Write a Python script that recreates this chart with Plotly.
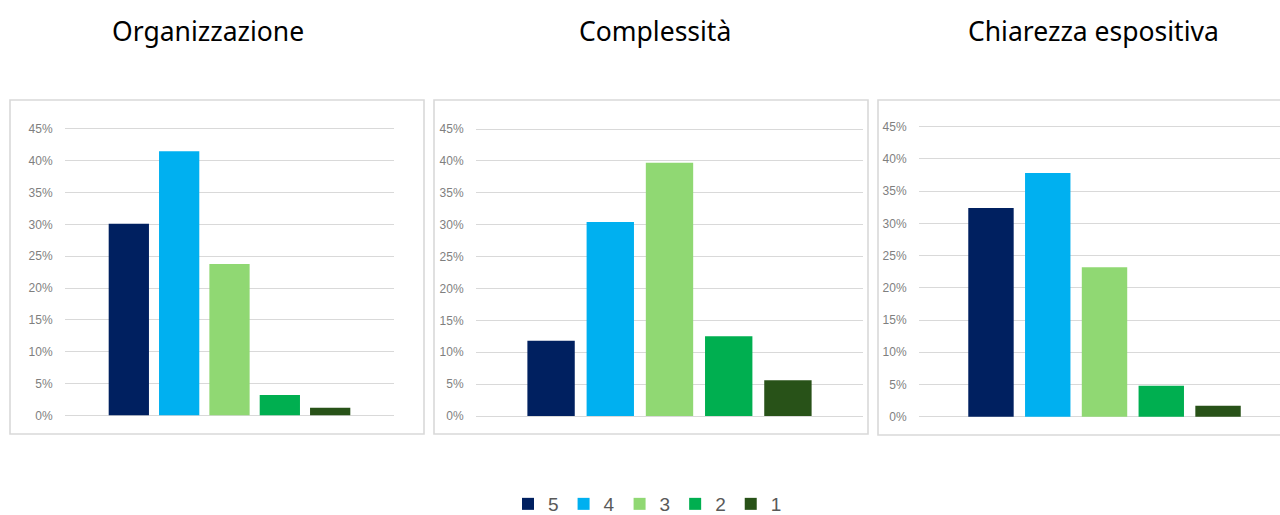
import plotly.graph_objects as go

panels = ["Organizzazione", "Complessità", "Chiarezza espositiva"]
series = ["5", "4", "3", "2", "1"]
colors = ["#002060", "#00B0F0", "#90D873", "#00AF50", "#285218"]
organizzazione = [0.301, 0.415, 0.238, 0.032, 0.012]
complessita = [0.118, 0.304, 0.397, 0.125, 0.056]
chiarezza = [0.324, 0.378, 0.232, 0.048, 0.017]
values = [organizzazione, complessita, chiarezza]
yticks = [0, 0.05, 0.10, 0.15, 0.20, 0.25, 0.30, 0.35, 0.40, 0.45]

# figure slightly taller than the 515px window so the legend never pushes margins
W, H = 1280, 535

def px_x(p):
    return p / W

def px_y(p):
    return 1 - p / H

# plot area pixel geometry: (x0, x1, y_top45, y_zero)
geo = [
    (65, 394, 129.0, 415.3),
    (476, 863, 129.0, 416.0),
    (919, 1280, 126.7, 416.7),
]
xranges = [[-0.5, 0.5], [-0.5, 0.5], [-0.5, 0.473]]
boxes = [(10, 424, 100, 434), (434, 868, 100, 434), (878, 1300, 100, 435)]
title_x = [208, 655, 1093]

fig = go.Figure()
for i, pname in enumerate(panels):
    ax = "" if i == 0 else str(i + 1)
    for j, s in enumerate(series):
        fig.add_trace(go.Bar(
            x=[pname], y=[values[i][j]], name=s,
            marker=dict(color=colors[j], line=dict(width=0)),
            legendgroup=s, showlegend=(i == 0),
            xaxis="x" + ax, yaxis="y" + ax,
        ))

layout = dict(
    width=W, height=H,
    margin=dict(l=0, r=0, t=0, b=0),
    paper_bgcolor="white", plot_bgcolor="white",
    barmode="group", bargap=0.235, bargroupgap=0.2,
    showlegend=True,
    legend=dict(orientation="h", x=px_x(508), xanchor="left",
                y=px_y(504), yanchor="middle",
                font=dict(family="Liberation Sans", size=19, color="#595959"),
                itemclick=False, itemdoubleclick=False),
    font=dict(family="Liberation Sans"),
)

lo, hi = -0.01, 0.46
shapes = []
annotations = []
for i in range(3):
    x0, x1, ytop, yzero = geo[i]
    ppu = (yzero - ytop) / 0.45
    pb = yzero - lo * ppu
    pt = ytop - (hi - 0.45) * ppu
    ax = "" if i == 0 else str(i + 1)
    layout["xaxis" + ax] = dict(
        domain=[px_x(x0), min(1.0, px_x(x1))], anchor="y" + ax,
        range=xranges[i], showticklabels=False, showgrid=False,
        zeroline=False, showline=False, fixedrange=True,
    )
    layout["yaxis" + ax] = dict(
        domain=[px_y(pb), px_y(pt)], anchor="x" + ax,
        range=[lo, hi], tickvals=yticks, tickformat=".0%",
        tickfont=dict(family="Liberation Sans", size=12, color="#7f7f7f"),
        ticks="outside", ticklen=9, tickcolor="rgba(0,0,0,0)",
        showgrid=True, gridcolor="#d9d9d9", gridwidth=1.4,
        zeroline=False, showline=False, fixedrange=True,
    )
    bx0, bx1, by0, by1 = boxes[i]
    shapes.append(dict(type="rect", xref="paper", yref="paper",
                       x0=px_x(bx0), x1=px_x(bx1), y0=px_y(by1), y1=px_y(by0),
                       line=dict(color="#d9d9d9", width=1.6), layer="below"))
    annotations.append(dict(text=panels[i], xref="paper", yref="paper",
                            x=px_x(title_x[i]), y=px_y(31), xanchor="center",
                            yanchor="middle", showarrow=False,
                            font=dict(family="Noto Sans", size=26.5, color="#000000")))

layout["shapes"] = shapes
layout["annotations"] = annotations
fig.update_layout(**layout)
fig.write_html("out.html", config={"displayModeBar": False},
               post_script="document.body.style.margin='0';document.body.style.overflow='hidden';")
